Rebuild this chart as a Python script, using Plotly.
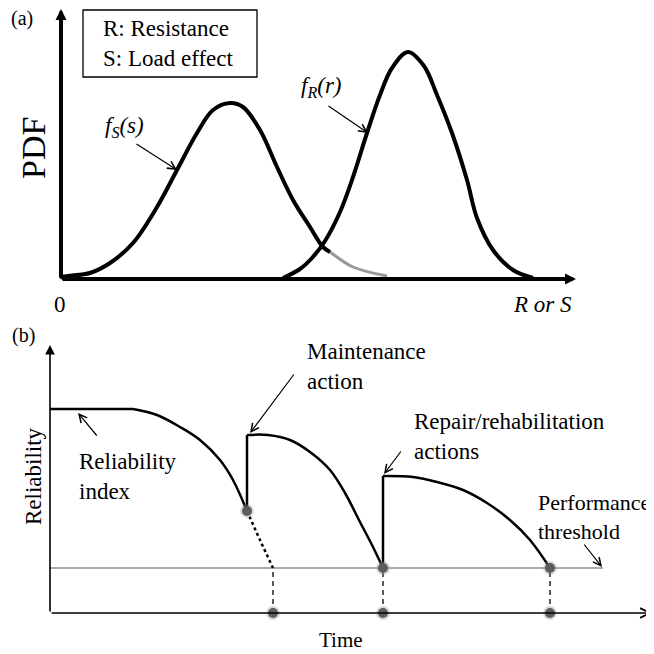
import plotly.graph_objects as go

# ---------------- Panel (a): PDFs (schematic units) ----------------
s_x = [0.0, 0.04, 0.58, 0.98, 1.44, 1.92, 2.32, 2.72, 3.04, 3.38, 3.64, 3.98, 4.32, 4.64, 4.98, 5.24, 5.38]
s_y = [0.0, 0.04, 0.12, 0.32, 0.72, 1.44, 2.18, 2.92, 3.38, 3.52, 3.44, 2.98, 2.24, 1.58, 1.04, 0.64, 0.54]
s_tail_x = [5.24, 5.38, 5.84, 6.52]
s_tail_y = [0.64, 0.54, 0.24, 0.06]
r_x = [4.44, 4.78, 5.02, 5.28, 5.58, 5.84, 6.12, 6.38, 6.62, 6.94, 7.26, 7.52, 7.82, 8.12, 8.32, 8.64, 9.04, 9.44]
r_y = [0.02, 0.20, 0.42, 0.76, 1.34, 2.04, 2.92, 3.68, 4.22, 4.54, 4.26, 3.68, 2.92, 1.98, 1.22, 0.58, 0.18, 0.02]

# ---------------- Panel (b): reliability profile ----------------
plateau_x = [0.0, 1.66]
plateau_y = [4.08, 4.08]
seg1_x = [1.66, 2.14, 2.60, 3.00, 3.40, 3.66, 3.94]
seg1_y = [4.08, 3.96, 3.72, 3.46, 3.06, 2.66, 2.04]
seg2_x = [3.94, 4.36, 4.80, 5.20, 5.60, 5.90, 6.20, 6.44, 6.66]
seg2_y = [3.56, 3.56, 3.46, 3.22, 2.86, 2.40, 1.82, 1.36, 0.90]
seg3_x = [6.66, 7.26, 7.74, 8.26, 8.74, 9.20, 9.60, 10.00]
seg3_y = [2.74, 2.72, 2.62, 2.46, 2.20, 1.86, 1.46, 0.90]
nomaint_x = [3.94, 4.20, 4.46]
nomaint_y = [2.04, 1.46, 0.90]
threshold = 0.90
threshold_end = 11.06
action_times = [3.94, 6.66]
failure_times = [4.46, 6.66, 10.00]
dot_x = [3.94, 4.46, 6.66, 6.66, 10.00, 10.00]
dot_y = [2.04, 0.0, 0.90, 0.0, 0.90, 0.0]

FONT = "Liberation Serif, Times New Roman, serif"
OFF = 8          # page body margin offset
W = 646          # figure size


def px_x(px):
    return (px - OFF) / W


def px_y(py):
    return 1 - (py - OFF) / W


fig = go.Figure()

# panel (a) traces
fig.add_trace(go.Scatter(x=s_tail_x, y=s_tail_y, mode="lines", line=dict(color="#999999", width=3, shape="spline"),
                         xaxis="x", yaxis="y", hoverinfo="skip"))
fig.add_trace(go.Scatter(x=s_x, y=s_y, mode="lines", line=dict(color="black", width=4, shape="spline"),
                         xaxis="x", yaxis="y", hoverinfo="skip"))
fig.add_trace(go.Scatter(x=r_x, y=r_y, mode="lines", line=dict(color="black", width=4, shape="spline"),
                         xaxis="x", yaxis="y", hoverinfo="skip"))

# panel (b) traces
fig.add_trace(go.Scatter(x=[0, threshold_end], y=[threshold, threshold], mode="lines",
                         line=dict(color="#aaaaaa", width=2), xaxis="x2", yaxis="y2", hoverinfo="skip"))
for fx in failure_times:
    fig.add_trace(go.Scatter(x=[fx, fx], y=[0, threshold], mode="lines",
                             line=dict(color="black", width=1.3, dash="5px,4px"), xaxis="x2", yaxis="y2", hoverinfo="skip"))
fig.add_trace(go.Scatter(x=nomaint_x, y=nomaint_y, mode="lines", line=dict(color="black", width=2.5, dash="dot", shape="spline"),
                         xaxis="x2", yaxis="y2", hoverinfo="skip"))
fig.add_trace(go.Scatter(x=plateau_x, y=plateau_y, mode="lines", line=dict(color="black", width=2.5),
                         xaxis="x2", yaxis="y2", hoverinfo="skip"))
for sx, sy in [(seg1_x, seg1_y), (seg2_x, seg2_y), (seg3_x, seg3_y)]:
    fig.add_trace(go.Scatter(x=sx, y=sy, mode="lines", line=dict(color="black", width=2.5, shape="spline"),
                             xaxis="x2", yaxis="y2", hoverinfo="skip"))
# vertical jumps at actions
fig.add_trace(go.Scatter(x=[action_times[0], action_times[0]], y=[seg1_y[-1], seg2_y[0]], mode="lines",
                         line=dict(color="black", width=2.5), xaxis="x2", yaxis="y2", hoverinfo="skip"))
fig.add_trace(go.Scatter(x=[action_times[1], action_times[1]], y=[seg2_y[-1], seg3_y[0]], mode="lines",
                         line=dict(color="black", width=2.5), xaxis="x2", yaxis="y2", hoverinfo="skip"))
fig.add_trace(go.Scatter(x=dot_x, y=dot_y, mode="markers",
                         marker=dict(size=14, color="rgba(150,150,150,0.35)"), xaxis="x2", yaxis="y2", hoverinfo="skip"))
fig.add_trace(go.Scatter(x=dot_x, y=dot_y, mode="markers",
                         marker=dict(size=10, color="#5c5c5c"), xaxis="x2", yaxis="y2", hoverinfo="skip"))

ann = []


def arrow(hx, hy, tx, ty, xr, yr, width, head, size):
    ann.append(dict(x=hx, y=hy, ax=tx, ay=ty, xref=xr, yref=yr, axref=xr, ayref=yr, text="",
                    showarrow=True, arrowhead=head, arrowwidth=width, arrowsize=size, arrowcolor="black",
                    standoff=0, startstandoff=0))


def text(x, y, t, xr, yr, size=23, xanchor="center", yanchor="middle", angle=0, align="left"):
    ann.append(dict(x=x, y=y, xref=xr, yref=yr, text=t, showarrow=False, xanchor=xanchor, yanchor=yanchor,
                    textangle=angle, align=align, font=dict(family=FONT, size=size, color="black")))


# panel (a) axes
arrow(0, 5.40, 0, 0, "x", "y", 4, 2, 0.55)
arrow(10.3, 0, 0, 0, "x", "y", 4, 2, 0.55)
# panel (a) pointers
arrow(2.32, 2.18, 1.48, 2.72, "x", "y", 1.2, 5, 1.3)
arrow(6.14, 2.92, 5.32, 3.48, "x", "y", 1.2, 5, 1.3)
# panel (b) axes
arrow(0, 5.36, 0, 0, "x2", "y2", 1.6, 2, 1.2)
arrow(12.04, 0, 0, 0, "x2", "y2", 1.6, 5, 1.2)
# panel (b) pointers
arrow(4.0, 3.6, 4.9, 4.8, "x2", "y2", 1.2, 5, 1.3)
arrow(6.68, 2.78, 7.04, 3.26, "x2", "y2", 1.2, 5, 1.3)
arrow(11.04, 0.92, 10.66, 1.40, "x2", "y2", 1.2, 5, 1.3)
arrow(0.56, 4.0, 0.96, 3.52, "x2", "y2", 1.2, 5, 1.3)

# panel (a) text
text(px_x(22), px_y(19), "(a)", "paper", "paper", size=20)
text(-0.56, 2.62, "PDF", "x", "y", size=34, angle=-90)
text(0.8, 4.71, "R: Resistance<br>S: Load effect", "x", "y", xanchor="left")
text(1.26, 3.04, "<i>f</i><sub><i>S</i></sub><i>(s)</i>", "x", "y")
text(5.2, 3.84, "<i>f</i><sub><i>R</i></sub><i>(r)</i>", "x", "y")
text(px_x(60), px_y(304), "0", "paper", "paper")
text(px_x(542), px_y(304), "<i>R or S</i>", "paper", "paper")

# panel (b) text
text(px_x(23), px_y(335), "(b)", "paper", "paper", size=20)
text(-0.34, 2.74, "Reliability", "x2", "y2", angle=-90)
text(px_x(341), px_y(640), "Time", "paper", "paper", size=21)
text(5.1, 4.94, "Maintenance<br>action", "x2", "y2", xanchor="left")
text(7.24, 3.54, "Repair/rehabilitation<br>actions", "x2", "y2", xanchor="left")
text(9.72, 1.92, "Performance<br>threshold", "x2", "y2", xanchor="left", size=22)
text(0.54, 2.74, "Reliability<br>index", "x2", "y2", xanchor="left")

shapes = [dict(type="rect", xref="x", yref="y", x0=0.44, x1=3.92, y0=4.04, y1=5.38,
               line=dict(color="black", width=1.3), fillcolor="rgba(0,0,0,0)")]

ax_common = dict(visible=False, showgrid=False, zeroline=False, fixedrange=True)
split = px_y(300)
fig.update_layout(
    width=W, height=W, margin=dict(l=0, r=0, t=0, b=0),
    paper_bgcolor="white", plot_bgcolor="white", showlegend=False,
    font=dict(family=FONT),
    xaxis=dict(domain=[0, 1], range=[(OFF - 61) / 50, (654 - 61) / 50], anchor="y", **ax_common),
    yaxis=dict(domain=[split, 1], range=[(279 - 300) / 50, (279 - OFF) / 50], anchor="x", **ax_common),
    xaxis2=dict(domain=[0, 1], range=[(OFF - 50) / 50, (654 - 50) / 50], anchor="y2", **ax_common),
    yaxis2=dict(domain=[0, split], range=[(613 - 654) / 50, (613 - 300) / 50], anchor="x2", **ax_common),
    annotations=ann, shapes=shapes,
)
fig.write_html("out.html")
